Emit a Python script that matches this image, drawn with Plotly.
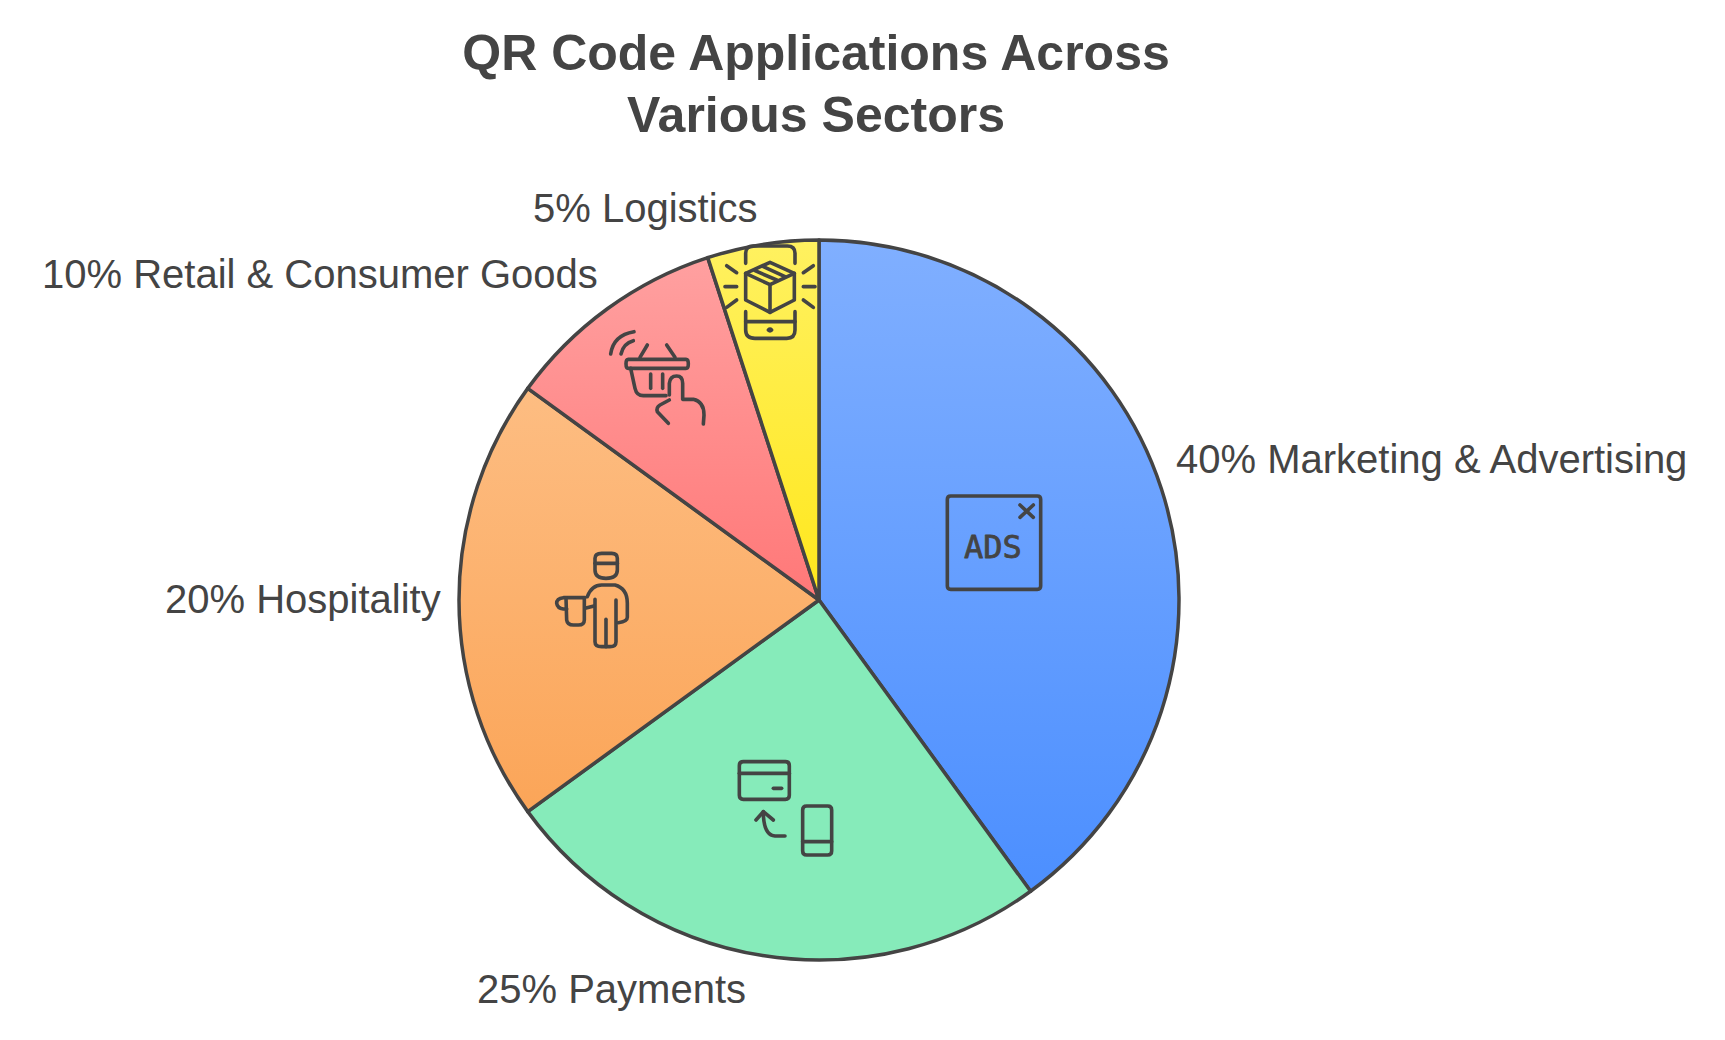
import re
import json
import plotly.graph_objects as go

sectors = ["Marketing & Advertising", "Payments", "Hospitality", "Retail & Consumer Goods", "Logistics"]
shares = [40, 25, 20, 10, 5]
title_lines = ["QR Code Applications Across", "Various Sectors"]

W, H = 1725, 1040
INK = "#444444"
top_colors = ["#80AFFF", "#86EBBA", "#FDBD82", "#FFA0A0", "#FFF160"]
bottom_colors = ["#4C8FFF", "#86EBBA", "#FBA558", "#FF7878", "#FFE71C"]
mid_colors = ["#669FFF", "#86EBBA", "#FCB16D", "#FF8C8C", "#FFEC3E"]

# label anchor: (left pixel, centre pixel)
label_pos = [(1174, 459), (475, 989), (163, 599), (40, 274), (531, 208)]


def px(path, ox, oy):
    """Icon path from zoomed-crop coordinates to paper fractions."""
    tokens = re.findall(r"[A-Za-z]|-?\d+\.?\d*", path)
    out, is_x = [], True
    for t in tokens:
        if t.isalpha():
            out.append(t)
            is_x = True
        else:
            v = float(t)
            if is_x:
                out.append(f"{(ox + v / 3) / W:.5f}")
            else:
                out.append(f"{1 - (oy + v / 3) / H:.5f}")
            is_x = not is_x
    s = ""
    for t in out:
        s += t if t.isalpha() else t + " "
    return s


logistics_icon = [
    "M557,130 L557,100 Q557,78 580,78 L682,78 Q705,78 705,100 L705,130",
    "M557,275 L557,330 Q557,355 585,355 L680,355 Q705,355 705,330 L705,275",
    "M557,305 L705,305",
    "M630,127 L703,160 L703,240 L630,277 L557,240 L557,160 Z",
    "M557,160 L630,194 L703,160",
    "M630,194 L630,277",
    "M585,152 L650,180",
    "M610,140 L675,170",
    "M500,137 L530,158", "M495,200 L530,200", "M500,262 L530,240",
    "M730,158 L760,137", "M730,200 L765,200", "M730,240 L760,262",
    "M625,330 Q630,325 635,330 Q630,335 625,330 Z",
]
retail_icon = [
    "M152,402 Q160,345 222,335", "M183,402 Q190,370 220,362",
    "M240,412 L262,375", "M345,412 L320,375",
    "M205,418 L378,418 Q385,418 385,431 Q385,445 378,445 L205,445 Q198,445 198,431 Q198,418 205,418 Z",
    "M212,445 L225,505 Q230,527 250,527 L318,527",
    "M272,462 L272,505", "M308,462 L308,505",
    "M328,525 L328,490 Q330,468 350,468 Q368,468 368,490 L368,538 L400,538 Q432,545 432,585 L430,612",
    "M325,610 L292,575 Q288,562 300,555 L328,540",
]
ads_icon = [
    "M92,78 L352,78 Q362,78 362,88 L362,348 Q362,358 352,358 L92,358 Q82,358 82,348 L82,88 Q82,78 92,78 Z",
    "M300,105 L340,142", "M340,105 L300,142",
]
hospitality_icon = [
    "M195,100 L195,85 Q195,70 215,70 L245,70 Q262,70 262,85 L262,120 Q262,145 228,145 Q195,145 195,120 Z",
    "M195,100 L262,100",
    "M172,200 Q185,165 215,165 L255,165 Q292,175 292,220 L292,262 Q292,275 265,278",
    "M258,210 L258,335 Q258,350 240,350 L215,350 Q195,350 195,335 L195,208",
    "M228,268 L228,350", "M165,235 L192,228",
    "M165,203 L100,203 Q80,205 80,220 Q82,235 100,237 L110,237",
    "M108,205 L110,270 Q112,285 130,285 L145,285 Q163,285 163,270 L163,205",
]
payments_icon = [
    "M70,65 L196,65 Q208,65 208,77 L208,166 Q208,178 196,178 L70,178 Q58,178 58,166 L58,77 Q58,65 70,65 Z",
    "M58,100 L208,100", "M160,145 L185,145",
    "M195,288 L165,288 Q130,285 130,215", "M108,240 L130,215 L160,240",
    "M260,198 L323,198 Q335,198 335,210 L335,333 Q335,345 323,345 L260,345 Q248,345 248,333 L248,210 Q248,198 260,198 Z",
    "M248,305 L335,305",
]
icons = [
    (logistics_icon, 560, 220), (retail_icon, 560, 220), (ads_icon, 920, 470),
    (hospitality_icon, 530, 530), (payments_icon, 720, 740),
]

shapes = []
for paths, ox, oy in icons:
    for p in paths:
        shapes.append(dict(type="path", xref="paper", yref="paper", path=px(p, ox, oy),
                           line=dict(color=INK, width=3.6), fillcolor="rgba(0,0,0,0)", layer="above"))

annotations = []
for sector, share, (lx, ly) in zip(sectors, shares, label_pos):
    annotations.append(dict(text=f"{share}% {sector}", xref="paper", yref="paper",
                            x=lx / W, y=1 - ly / H, xanchor="left", yanchor="middle",
                            showarrow=False, font=dict(family="Liberation Sans", size=40, color=INK)))
annotations.append(dict(text="ADS", xref="paper", yref="paper", x=993 / W, y=1 - 547 / H,
                        xanchor="center", yanchor="middle", showarrow=False,
                        font=dict(family="DejaVu Sans Mono", size=32, color=INK)))

CX, CY, R = 819, 600, 360
fig = go.Figure(go.Pie(
    labels=sectors, values=shares, sort=False, direction="clockwise", rotation=0,
    textinfo="none", showlegend=False, hoverinfo="label+percent",
    marker=dict(colors=mid_colors, line=dict(color=INK, width=3.5)),
    domain=dict(x=[(CX - R) / W, (CX + R) / W], y=[1 - (CY + R) / H, 1 - (CY - R) / H]),
))
fig.update_layout(
    width=W, height=H, autosize=False, paper_bgcolor="white", plot_bgcolor="white",
    margin=dict(l=0, r=0, t=0, b=0), shapes=shapes, annotations=annotations, showlegend=False,
    title=dict(text="<br>".join(f"<b>{t}</b>" for t in title_lines), x=816 / W, y=1 - 70 / H,
               xanchor="center", yanchor="middle", xref="paper", yref="paper",
               font=dict(family="Liberation Sans", size=50, color=INK)),
)

post = """
document.body.style.margin = '0';
var tops = %s, bottoms = %s;
var svg = document.querySelector('.main-svg');
var ns = 'http://www.w3.org/2000/svg';
var defs = document.createElementNS(ns, 'defs');
tops.forEach(function (c, i) {
  var g = document.createElementNS(ns, 'linearGradient');
  g.setAttribute('id', 'sliceGrad' + i);
  g.setAttribute('x1', '0'); g.setAttribute('y1', '0');
  g.setAttribute('x2', '0'); g.setAttribute('y2', '1');
  [[0, c], [1, bottoms[i]]].forEach(function (s) {
    var st = document.createElementNS(ns, 'stop');
    st.setAttribute('offset', s[0]); st.setAttribute('stop-color', s[1]);
    g.appendChild(st);
  });
  defs.appendChild(g);
});
svg.insertBefore(defs, svg.firstChild);
document.querySelectorAll('.pielayer .slice path.surface').forEach(function (p, i) {
  p.style.fill = 'url(#sliceGrad' + i + ')';
  p.style.fillOpacity = 1;
});
document.querySelectorAll('.shapelayer path').forEach(function (p) {
  p.style.strokeLinecap = 'round';
  p.style.strokeLinejoin = 'round';
});
var tl = document.querySelectorAll('.gtitle tspan.line');
if (tl.length > 1) { tl[1].setAttribute('y', parseFloat(tl[1].getAttribute('y')) - 3.5); }
document.querySelectorAll('.annotation-text').forEach(function (t) {
  if (t.textContent === 'ADS') {
    t.style.stroke = '#444444';
    t.style.strokeWidth = '0.8px';
    t.style.strokeLinejoin = 'round';
  }
});
""" % (json.dumps(top_colors), json.dumps(bottom_colors))

fig.write_html("out.html", post_script=post, config=dict(displayModeBar=False))
